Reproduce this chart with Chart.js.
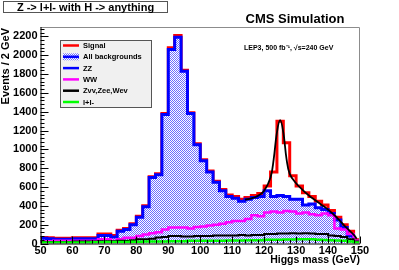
<!DOCTYPE html>
<html>
<head>
<meta charset="utf-8">
<script src="https://cdn.jsdelivr.net/npm/chart.js@4/dist/chart.umd.min.js"></script>
<style>
  html, body { margin: 0; padding: 0; background: #fff; }
  #wrap { width: 399px; height: 270px; }
</style>
</head>
<body>
<div id="wrap"><canvas id="myChart" width="399" height="270"></canvas></div>
<script>
// bin low edges, 2 GeV bins from 50 to 150
var binLow = [50,52,54,56,58,60,62,64,66,68,70,72,74,76,78,80,82,84,86,88,
              90,92,94,96,98,100,102,104,106,108,110,112,114,116,118,120,122,124,126,128,
              130,132,134,136,138,140,142,144,146,148];
var binHigh = 150;

var signal = [65,60,55,55,55,60,60,60,60,100,100,85,140,160,210,290,400,710,740,1380,
              2080,2210,1840,1390,1060,890,770,660,575,515,500,470,490,510,530,610,760,1300,1070,720,
              610,540,500,450,410,350,280,200,130,40];
var allBkg = [55,50,45,45,45,50,50,50,50,85,85,70,130,150,200,280,390,700,730,1370,
              2060,2190,1830,1380,1050,880,760,650,560,500,480,450,470,490,500,560,500,510,500,470,
              470,410,420,380,360,320,250,170,80,25];
var ww = [25,25,30,30,30,30,30,30,30,45,45,30,45,60,60,80,95,110,120,150,
          170,170,170,160,175,180,190,200,210,225,240,240,260,300,290,330,340,330,345,340,
          320,330,310,300,320,300,160,150,100,30];
var zvv = [15,15,15,15,15,20,20,20,20,25,25,25,30,30,35,45,45,50,65,70,
           80,80,75,75,80,80,80,85,85,85,85,90,85,90,90,100,100,105,105,110,
           105,110,105,100,100,85,80,70,45,20];
var llep = [10,10,10,10,10,10,10,10,12,12,15,15,15,15,18,18,20,20,22,22,
            25,25,25,28,28,28,30,30,30,32,32,32,35,35,35,40,40,40,42,42,
            45,45,45,40,38,35,32,28,22,10];

// fitted curve over the signal peak
var fitX = [114,116,118,120,122,123,124,125,126,127,128,130,132,134,136,138,140,142,144,146,148,149];
var fitY = [465,480,505,560,700,900,1180,1310,1180,900,740,640,570,510,460,410,360,300,230,160,95,50];

var yTicks = [0,200,400,600,800,1000,1200,1400,1600,1800,2000,2200];
var xTicks = [50,60,70,80,90,100,110,120,130,140,150];

var FONT = "'Liberation Sans', Arial, Helvetica, sans-serif";

function toSteps(values)
{
    var pts = [];
    for (var i = 0; i < values.length; i++)
        pts.push({x: binLow[i], y: values[i]});
    pts.push({x: binHigh, y: values[values.length - 1]});
    return pts;
}

function hatch()
{
    var c = document.createElement('canvas');
    c.width = 2; c.height = 2;
    var g = c.getContext('2d');
    g.fillStyle = '#ffffff';
    g.fillRect(0, 0, 2, 2);
    g.fillStyle = '#6e6eff';
    g.fillRect(0, 0, 1, 1);
    g.fillRect(1, 1, 1, 1);
    return g.createPattern(c, 'repeat');
}

var fitPts = [];
for (var i = 0; i < fitX.length; i++)
    fitPts.push({x: fitX[i], y: fitY[i]});

var legendRows = [
    {text: 'Signal', color: '#ff0000'},
    {text: 'All backgrounds', color: '#0000ff', hatched: true},
    {text: 'ZZ', color: '#0000ff'},
    {text: 'WW', color: '#ff00ff'},
    {text: 'Zvv,Zee,Wev', color: '#000000'},
    {text: 'l+l-', color: '#00ff00'}
];

var decor = {
    id: 'decor',
    afterDatasetsDraw: function(chart)
    {
        var ctx = chart.ctx;
        var a = chart.chartArea;
        var xs = chart.scales.x, ys = chart.scales.y;
        ctx.save();

        // frame
        ctx.strokeStyle = '#8c8c8c';
        ctx.lineWidth = 1;
        ctx.beginPath();
        ctx.moveTo(a.left, a.top + 0.5);
        ctx.lineTo(a.right - 0.5, a.top + 0.5);
        ctx.lineTo(a.right - 0.5, a.bottom);
        ctx.stroke();
        ctx.strokeStyle = '#000';
        ctx.beginPath();
        ctx.moveTo(a.left + 0.5, a.top);
        ctx.lineTo(a.left + 0.5, a.bottom + 0.5);
        ctx.lineTo(a.right, a.bottom + 0.5);
        ctx.stroke();

        // inside ticks
        ctx.beginPath();
        for (var v = 0; v <= 2300; v += 40)
        {
            var py = Math.round(ys.getPixelForValue(v)) + 0.5;
            var len = (v % 200 == 0) ? 8 : 4;
            ctx.moveTo(a.left, py);
            ctx.lineTo(a.left + len, py);
        }
        for (var g = 50; g <= 150; g += 2)
        {
            var px = Math.round(xs.getPixelForValue(g)) + 0.5;
            var l2 = (g % 10 == 0) ? 7 : 3.5;
            ctx.moveTo(px, a.bottom);
            ctx.lineTo(px, a.bottom - l2);
        }
        ctx.stroke();

        // title box
        ctx.fillStyle = '#fff';
        ctx.fillRect(3, 1, 165, 12);
        ctx.strokeStyle = '#555';
        ctx.strokeRect(3.5, 1.5, 164, 11);
        ctx.fillStyle = '#000';
        ctx.font = 'bold 11px ' + FONT;
        ctx.textAlign = 'center';
        ctx.textBaseline = 'middle';
        ctx.fillText('Z -> l+l- with H -> anything', 85.5, 7.5);

        ctx.font = 'bold 13px ' + FONT;
        ctx.textBaseline = 'alphabetic';
        ctx.fillText('CMS Simulation', 295, 23);

        ctx.font = 'bold 7px ' + FONT;
        ctx.textAlign = 'left';
        ctx.fillText('LEP3, 500 fb\u207B\u00B9, \u221As=240 GeV', 244, 49.5);

        // axis titles
        ctx.font = 'bold 10.5px ' + FONT;
        ctx.textAlign = 'right';
        ctx.fillText('Higgs mass (GeV)', 360, 263);

        ctx.save();
        ctx.translate(8.5, 28);
        ctx.rotate(-Math.PI / 2);
        ctx.font = 'bold 11px ' + FONT;
        ctx.textAlign = 'right';
        ctx.fillText('Events / 2 GeV', 0, 0);
        ctx.restore();

        // legend
        ctx.fillStyle = '#f0f0f0';
        ctx.fillRect(60, 40, 92, 68);
        ctx.strokeStyle = '#555';
        ctx.strokeRect(60.5, 40.5, 91, 67);
        ctx.font = 'bold 7.5px ' + FONT;
        ctx.textAlign = 'left';
        ctx.textBaseline = 'middle';
        for (var r = 0; r < legendRows.length; r++)
        {
            var row = legendRows[r];
            var cy = 45.5 + r * 11.3;
            if (row.hatched)
            {
                ctx.fillStyle = hatch();
                ctx.fillRect(63, cy - 3.5, 16, 7);
            }
            ctx.strokeStyle = row.color;
            ctx.lineWidth = 2.5;
            ctx.beginPath();
            ctx.moveTo(63, cy);
            ctx.lineTo(79, cy);
            ctx.stroke();
            ctx.fillStyle = '#000';
            ctx.fillText(row.text, 83, cy + 0.5);
        }
        ctx.restore();
    }
};

function plain(v) { return String(v); }

var ctx = document.getElementById('myChart');
var myChart = new Chart(ctx, {
    type: 'line',
    data: {
        datasets: [
            {label: 'fit', data: fitPts, borderColor: '#000', borderWidth: 1.8, tension: 0.4,
             pointRadius: 0, fill: false, order: 0},
            {label: 'l+l-', data: toSteps(llep), borderColor: '#00ff00', borderWidth: 2.5,
             stepped: true, pointRadius: 0, fill: false, order: 1},
            {label: 'Zvv,Zee,Wev', data: toSteps(zvv), borderColor: '#000', borderWidth: 2,
             stepped: true, pointRadius: 0, fill: false, order: 2},
            {label: 'WW', data: toSteps(ww), borderColor: '#ff00ff', borderWidth: 2.5,
             stepped: true, pointRadius: 0, fill: false, order: 3},
            {label: 'All backgrounds', data: toSteps(allBkg), borderColor: '#0000ff', borderWidth: 3,
             backgroundColor: hatch(), stepped: true, pointRadius: 0, fill: 'origin', order: 4},
            {label: 'Signal', data: toSteps(signal), borderColor: '#ff0000', borderWidth: 3,
             stepped: true, pointRadius: 0, fill: false, order: 5}
        ]
    },
    options: {
        responsive: false,
        animation: false,
        events: [],
        layout: { padding: {left: 0, top: 27, right: 39, bottom: 0} },
        plugins: { legend: {display: false}, tooltip: {enabled: false} },
        scales: {
            x: {
                type: 'linear', min: 50, max: 150,
                grid: {display: false, drawTicks: false}, border: {display: false},
                afterFit: function(s) { s.height = 26.5; },
                afterBuildTicks: function(s) { s.ticks = xTicks.map(function(v) { return {value: v}; }); },
                ticks: {color: '#000', padding: 1, maxRotation: 0, autoSkip: false, callback: plain,
                        font: {family: FONT, size: 11, weight: 'bold'}}
            },
            y: {
                type: 'linear', min: 0, max: 2300,
                grid: {display: false, drawTicks: false}, border: {display: false},
                afterFit: function(s) { s.width = 40.5; },
                afterBuildTicks: function(s) { s.ticks = yTicks.map(function(v) { return {value: v}; }); },
                ticks: {color: '#000', padding: 3, autoSkip: false, callback: plain,
                        font: {family: FONT, size: 11, weight: 'bold'}}
            }
        }
    },
    plugins: [decor]
});
</script>
</body>
</html>
